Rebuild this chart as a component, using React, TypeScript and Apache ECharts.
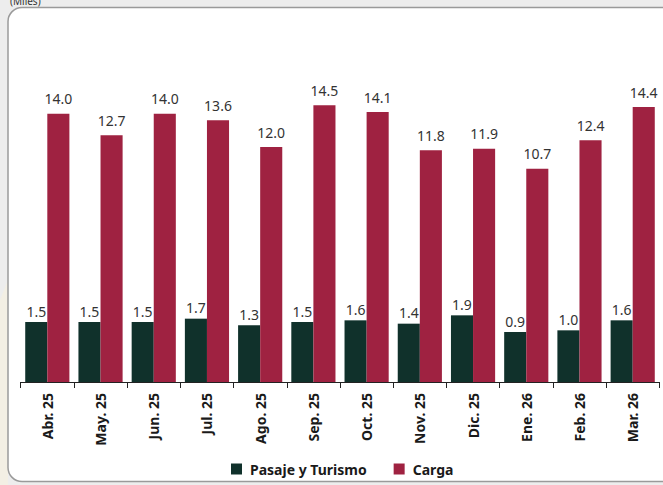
import React, { useEffect, useRef } from "react";
import * as echarts from "echarts";

const categories = ["Abr. 25", "May. 25", "Jun. 25", "Jul. 25", "Ago. 25", "Sep. 25", "Oct. 25", "Nov. 25", "Dic. 25", "Ene. 26", "Feb. 26", "Mar. 26"];
const pasajeTurismo = [1.5, 1.5, 1.5, 1.7, 1.3, 1.5, 1.6, 1.4, 1.9, 0.9, 1.0, 1.6];
const carga = [14.0, 12.7, 14.0, 13.6, 12.0, 14.5, 14.1, 11.8, 11.9, 10.7, 12.4, 14.4];
const seriesNames = ["Pasaje y Turismo", "Carga"];
const unitLabel = "(Miles)";

// the original chart's value axis starts below zero, so bars rise from that floor
const AXIS_FLOOR = 2.1;
const AXIS_MAX = 18;
const floorValues = categories.map(() => AXIS_FLOOR);
const FONT = "'Noto Sans', 'Open Sans', sans-serif";
const GREEN = "#10312B";
const RED = "#9F2241";

export default function App() {
  const ref = useRef<HTMLDivElement>(null);
  useEffect(() => {
    if (!ref.current) return;
    const chart = echarts.init(ref.current, null, { renderer: "svg" });
    const label = (distance: number) => ({
      show: true,
      position: "top" as const,
      distance,
      color: "#333333",
      fontSize: 14,
      fontFamily: FONT,
      formatter: (p: any) => Number(p.value).toFixed(1),
    });
    const base = {
      type: "bar",
      barGap: "0%",
      barCategoryGap: "17%",
    };
    chart.setOption({
      animation: false,
      backgroundColor: "#ededed",
      graphic: [
        { type: "polygon", silent: true, z: -10, shape: { points: [[0, 300], [8, 280], [8, 485], [0, 485]] }, style: { fill: "#f3efe4" } },
        {
          type: "rect",
          silent: true,
          z: -5,
          shape: { x: 8, y: 7.5, width: 670, height: 474, r: 14 },
          style: { fill: "#ffffff", stroke: "#9a9a9a", lineWidth: 1.5 },
        },
        {
          type: "text",
          silent: true,
          left: 10,
          top: -4,
          style: { text: unitLabel, fontSize: 10, fontFamily: FONT, fill: "#333333" },
        },
      ],
      grid: { left: 20.7, right: 3.7, top: 82, bottom: 103 },
      legend: {
        data: seriesNames,
        left: 226,
        top: 457,
        itemWidth: 11,
        itemHeight: 11,
        itemGap: 27,
        icon: "rect",
        textStyle: { fontSize: 14, fontWeight: "bold", fontFamily: FONT, color: "#1a1a1a", padding: [0, 0, 0, 3] },
      },
      xAxis: {
        type: "category",
        data: categories,
        axisLine: { onZero: false, lineStyle: { color: "#222222", width: 1 } },
        axisTick: { show: true, length: 6, lineStyle: { color: "#222222" } },
        axisLabel: {
          rotate: 90,
          margin: 11,
          fontSize: 14,
          fontWeight: "bold",
          fontFamily: FONT,
          color: "#1a1a1a",
          interval: 0,
        },
      },
      yAxis: {
        type: "value",
        min: 0,
        max: AXIS_MAX,
        show: false,
        splitLine: { show: false },
      },
      series: [
        { ...base, name: "floorG", stack: "g", data: floorValues, itemStyle: { color: GREEN }, label: { show: false } },
        { ...base, name: seriesNames[0], stack: "g", data: pasajeTurismo, itemStyle: { color: GREEN }, label: label(4) },
        { ...base, name: "floorR", stack: "r", data: floorValues, itemStyle: { color: RED }, label: { show: false } },
        { ...base, name: seriesNames[1], stack: "r", data: carga, itemStyle: { color: RED }, label: label(8) },
      ],
    });
    return () => chart.dispose();
  }, []);
  return (
    <div
      ref={ref}
      style={{ position: "fixed", left: 0, top: 0, width: 663, height: 485 }}
    />
  );
}
